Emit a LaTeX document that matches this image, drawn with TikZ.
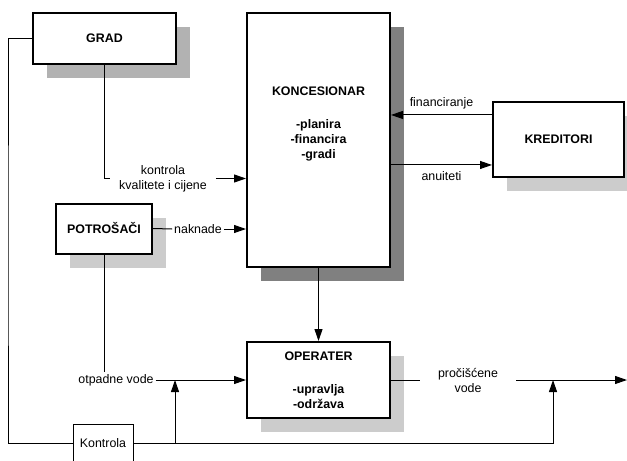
\documentclass[tikz,border=0pt]{standalone}
\usepackage{fontspec}
\setmainfont{Liberation Sans}
\usetikzlibrary{arrows.meta,shadows,positioning}

\definecolor{shadegrad}{HTML}{B2B2B2}
\definecolor{shadelight}{HTML}{CCCCCC}
\definecolor{shadedark}{HTML}{808080}

\tikzset{every picture/.style={line width=0.75pt}}
\tikzset{
  box/.style={draw, line width=1.5pt, fill=white, align=center, inner sep=0pt,
    font=\bfseries\fontsize{9.3}{11.25}\selectfont},
  smallbox/.style={draw, line width=0.75pt, fill=white, inner sep=0pt,
    font=\fontsize{9.3}{11.25}\selectfont},
  gradshade/.style={drop shadow={shadow xshift=10.5pt, shadow yshift=-10.5pt, fill=shadegrad, opacity=1}},
  lightshade/.style={drop shadow={shadow xshift=10.5pt, shadow yshift=-10.5pt, fill=shadelight, opacity=1}},
  darkshade/.style={drop shadow={shadow xshift=10.5pt, shadow yshift=-10.5pt, fill=shadedark, opacity=1}},
  lbl/.style={align=center, inner sep=1.2pt, font=\fontsize{9.3}{11.25}\selectfont},
  flow/.style={-{Triangle[length=9pt,width=6pt]}}
}

\begin{document}
\begin{tikzpicture}[x=0.75pt,y=0.75pt,yscale=-1,xscale=1]
\useasboundingbox (0,0) rectangle (627,460);
\clip (0,0) rectangle (627,460);

%Boxes
\node [box, gradshade, minimum width=107.25pt, minimum height=38.25pt] (grad) at (104.5,38.5) {GRAD};
\node [box, darkshade, minimum width=107.25pt, minimum height=190.5pt] (konc) at (318.5,140) {};
\node [box, lightshade, minimum width=98.25pt, minimum height=56.25pt] (kred) at (558.5,139.5) {KREDITORI};
\node [box, lightshade, minimum width=72pt, minimum height=37.5pt] (potr) at (104,228.5) {POTROŠAČI};
\node [box, lightshade, minimum width=107.25pt, minimum height=57pt] (oper) at (318.5,380) {OPERATER\\[13.5pt]-upravlja\\-održava};
\node [smallbox, minimum width=45pt, minimum height=28.5pt] (kontr) at (103,443) {Kontrola};

% Text Node
\node [box, draw=none, fill=none] (konctext) at (318.5,123.5) {KONCESIONAR\\[13.5pt]-planira\\-financira\\-gradi};
% Text Node
\node [lbl, inner xsep=6.5pt] (kvaltext) at (163,178.5) {kontrola\\kvalitete i cijene};
% Text Node
\node [lbl] (nakntext) at (198,229) {naknade};
% Text Node
\node [lbl] (otpadtext) at (116,380) {otpadne vode};
% Text Node
\node [lbl, inner xsep=13.5pt] (proctext) at (468,380) {pročišćene\\vode};

\coordinate (leftside) at (8,250);
\coordinate (tapleft) at (175,380);
\coordinate (tapright) at (553,380);
\coordinate (outend) at (627,380);

%Connectors
\draw (grad.south) |- (kvaltext.west);
\draw [flow] (kvaltext.east) -- (kvaltext.east -| konc.west);
\draw (potr.east) -- (nakntext.west);
\draw [flow] (nakntext.east) -- (nakntext.east -| konc.west);
\draw [flow] ([yshift=-18.4pt]kred.west) -- ([yshift=-18.4pt]kred.west -| konc.east)
  node [lbl, midway, above=3pt] (fintext) {financiranje};
\draw [flow] ([yshift=19.1pt]kred.west -| konc.east) -- ([yshift=19.1pt]kred.west)
  node [lbl, midway, below=3pt] (anuittext) {anuiteti};
\draw [flow] (konc.south) -- (oper.north);
\draw (potr.south) -- (potr.south |- otpadtext.north);
\draw [flow] (otpadtext.east) -- (oper.west);
\draw (oper.east) -- (proctext.west);
\draw [flow] (proctext.east) -- (outend);
\draw (grad.west) -| (leftside) |- (kontr.west);
\draw [flow] (kontr.east) -| (tapright);
\draw [flow] (kontr.east -| tapleft) -- (tapleft);

\end{tikzpicture}
\end{document}
